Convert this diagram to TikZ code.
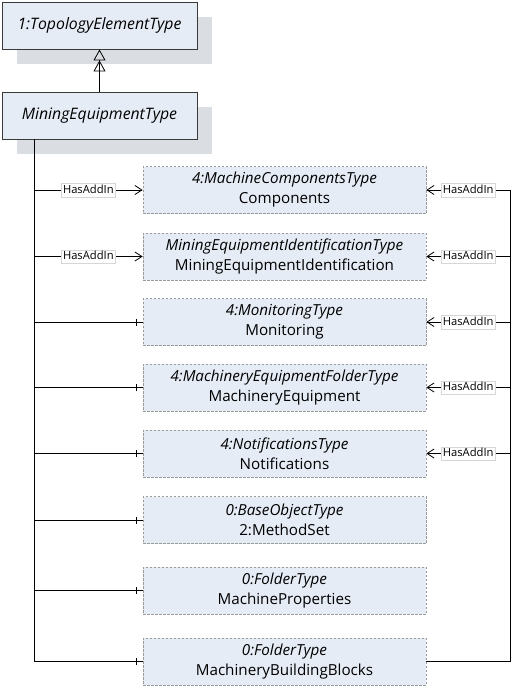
\documentclass[tikz,border=0pt]{standalone}
\usepackage{fontspec}
\setmainfont{Open Sans}
\usetikzlibrary{arrows.meta,decorations.markings,calc}
\definecolor{boxfill}{HTML}{E6ECF6}
\definecolor{shadowc}{HTML}{DADDE2}
\definecolor{boxline}{HTML}{3A3A3A}
\definecolor{dashline}{HTML}{9A9A9A}
\definecolor{lablline}{HTML}{D6D6D6}
\tikzset{
  typebox/.style={draw=boxline, line width=0.9pt, fill=boxfill, minimum width=195pt, minimum height=47pt, inner sep=0pt, font=\fontsize{15.8}{18}\selectfont\itshape},
  shadowbox/.style={fill=shadowc, draw=none, minimum width=195pt, minimum height=47pt, inner sep=0pt},
  childbox/.style={draw=dashline, dashed, dash pattern=on 2.5pt off 1.5pt, line width=0.7pt, fill=boxfill, minimum width=283pt, minimum height=47pt, inner sep=0pt, align=center, font=\fontsize{15.2}{20}\selectfont},
  conn/.style={draw=black, line width=0.8pt},
  addin/.style={conn, -{Straight Barb[length=7pt,width=9pt,line width=0.8pt]}},
  lbl/.style={fill=white, draw=lablline, line width=0.5pt, inner sep=1.5pt, font=\fontsize{11.2}{12}\selectfont, text height=8.5pt, text depth=2pt},
  tick/.style={conn, postaction={decorate, decoration={markings, mark=at position -6pt with {\draw[line width=0.8pt] (0,-3.5pt) -- (0,3.5pt);}}}},
}
\begin{document}
\begin{tikzpicture}[x=1pt,y=-1pt]
\useasboundingbox (0,0) rectangle (523,688);
% shadows
\node[shadowbox] (tshadow) at (114.5,40.5) {};
\node[shadowbox] (mshadow) at (114.5,130.5) {};
% type boxes
\node[typebox] (top) at (99.5,25.5) {1:TopologyElementType};
\node[typebox] (met) at (99.5,115.5) {MiningEquipmentType};
\draw[conn, -{Triangle[open,length=11pt,width=12pt,line width=0.8pt] Triangle[open,length=11pt,width=12pt,line width=0.8pt]}] (met.north) -- (top.south);
% children
\node[childbox] (c1) at (284.5,190) {\textit{4:MachineComponentsType}\\Components};
\node[childbox] (c2) at (284.5,256.5) {\textit{MiningEquipmentIdentificationType}\\MiningEquipmentIdentification};
\node[childbox] (c3) at (284.5,322) {\textit{4:MonitoringType}\\Monitoring};
\node[childbox] (c4) at (284.5,387.5) {\textit{4:MachineryEquipmentFolderType}\\MachineryEquipment};
\node[childbox] (c5) at (284.5,453.5) {\textit{4:NotificationsType}\\Notifications};
\node[childbox] (c6) at (284.5,520) {\textit{0:BaseObjectType}\\2:MethodSet};
\node[childbox] (c7) at (284.5,590.5) {\textit{0:FolderType}\\MachineProperties};
\node[childbox] (c8) at (284.5,661.5) {\textit{0:FolderType}\\MachineryBuildingBlocks};
% left trunk
\coordinate (tr) at (34,139);
\draw[tick] (tr) |- (c8.west);
\draw[addin] (tr |- c1.west) -- node[lbl] {HasAddIn} (c1.west);
\draw[addin] (tr |- c2.west) -- node[lbl] {HasAddIn} (c2.west);
\foreach \c in {c3,c4,c5,c6,c7}{
  \draw[tick] (tr |- \c.west) -- (\c.west);
}
% right side add-ins from c8
\coordinate (rt) at (510,190);
\foreach \c in {c1,c2,c3,c4,c5}{
  \draw[addin] (c8.east) -| (rt |- \c.east) -- node[lbl] {HasAddIn} (\c.east);
}
\end{tikzpicture}
\end{document}
